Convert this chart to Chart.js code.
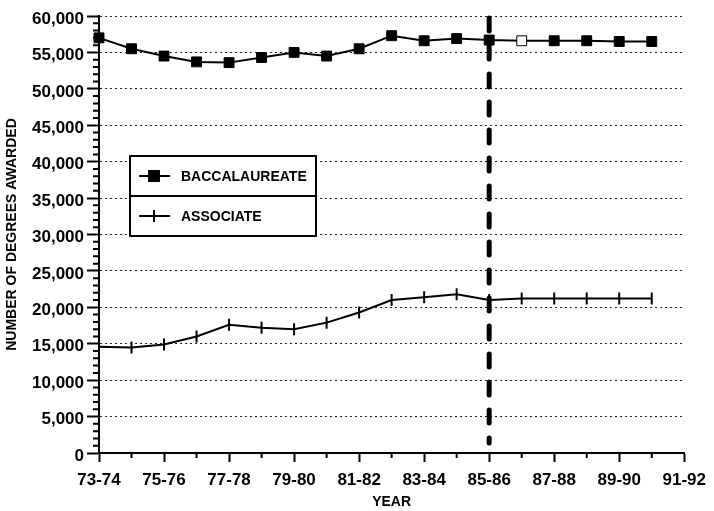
<!DOCTYPE html>
<html>
<head>
<meta charset="utf-8">
<script src="https://cdn.jsdelivr.net/npm/chart.js@4.4.0/dist/chart.umd.min.js"></script>
<style>
  html, body { margin: 0; padding: 0; background: #fff; }
</style>
</head>
<body>
<canvas id="myChart" width="714" height="511"></canvas>
<script>
let years = ['73-74','74-75','75-76','76-77','77-78','78-79','79-80','80-81','81-82','82-83',
             '83-84','84-85','85-86','86-87','87-88','88-89','89-90','90-91','91-92'];
let baccalaureate = [57000, 55500, 54500, 53700, 53600, 54300, 55000, 54500, 55500, 57300,
                     56600, 56900, 56700, 56600, 56600, 56600, 56500, 56500];
let associate = [14600, 14500, 14900, 16000, 17600, 17200, 17000, 17900, 19300, 21000,
                 21400, 21800, 21000, 21200, 21200, 21200, 21200, 21200];
let projectionStart = '85-86';
let openPoint = '86-87';

const face = "'Liberation Sans', Arial, sans-serif";

// dashed line where the projection starts
const projectionLine = {
    id: 'projectionLine',
    beforeDatasetsDraw(chart) {
        const ctx = chart.ctx;
        const x = chart.scales.x.getPixelForValue(years.indexOf(projectionStart));
        ctx.save();
        ctx.strokeStyle = '#000';
        ctx.lineWidth = 5;
        ctx.lineCap = 'round';
        ctx.setLineDash([13, 15]);
        ctx.beginPath();
        ctx.moveTo(x, chart.chartArea.top + 2);
        ctx.lineTo(x, chart.chartArea.bottom - 10);
        ctx.stroke();
        ctx.restore();
    }
};

// short minor ticks on both axes
const minorTicks = {
    id: 'minorTicks',
    afterDraw(chart) {
        const ctx = chart.ctx;
        const xs = chart.scales.x, ys = chart.scales.y;
        ctx.save();
        ctx.strokeStyle = '#000';
        ctx.lineWidth = 2;
        ctx.beginPath();
        for (let v = 1000; v < 60000; v += 1000) {
            if (v % 5000 === 0) continue;
            const y = ys.getPixelForValue(v);
            ctx.moveTo(ys.right - 6, y);
            ctx.lineTo(ys.right, y);
        }
        for (let i = 1; i < years.length; i += 2) {
            const x = xs.getPixelForValue(i);
            ctx.moveTo(x, xs.top);
            ctx.lineTo(x, xs.top + 5);
        }
        ctx.stroke();
        ctx.restore();
    }
};

// boxed legend
const boxLegend = {
    id: 'boxLegend',
    afterDatasetsDraw(chart) {
        const ctx = chart.ctx;
        const bx = 130, by = 156, bw = 186, bh = 80;
        ctx.save();
        ctx.fillStyle = '#fff';
        ctx.fillRect(bx, by, bw, bh);
        ctx.strokeStyle = '#000';
        ctx.lineWidth = 2;
        ctx.strokeRect(bx, by, bw, bh);
        ctx.beginPath();
        ctx.moveTo(bx, by + bh / 2);
        ctx.lineTo(bx + bw, by + bh / 2);
        ctx.stroke();
        chart.data.datasets.forEach((ds, i) => {
            const cy = by + bh / 4 + i * bh / 2;
            ctx.strokeStyle = '#000';
            ctx.fillStyle = '#000';
            ctx.lineWidth = 2;
            ctx.beginPath();
            ctx.moveTo(bx + 9, cy);
            ctx.lineTo(bx + 40, cy);
            ctx.stroke();
            Chart.helpers.drawPoint(ctx, {
                pointStyle: ds.pointStyle, rotation: ds.pointRotation || 0,
                radius: ds.pointRadius, borderWidth: 2
            }, bx + 24, cy);
            ctx.font = 'bold 14px ' + face;
            ctx.textBaseline = 'middle';
            ctx.textAlign = 'left';
            ctx.fillText(ds.label, bx + 51, cy + 1);
        });
        ctx.restore();
    }
};

new Chart('myChart', {
    type: 'line',
    data: {
        labels: years,
        datasets: [{
            label: 'BACCALAUREATE',
            data: baccalaureate,
            borderColor: '#000',
            borderWidth: 2,
            pointStyle: 'rect',
            pointRadius: 7,
            pointBorderWidth: 1,
            pointBorderColor: '#000',
            pointBackgroundColor: (c) => years[c.dataIndex] === openPoint ? '#fff' : '#000',
            tension: 0
        }, {
            label: 'ASSOCIATE',
            data: associate,
            borderColor: '#000',
            borderWidth: 2,
            pointStyle: 'line',
            pointRotation: 90,
            pointRadius: 6,
            pointBorderWidth: 2,
            pointBorderColor: '#000',
            tension: 0
        }]
    },
    options: {
        responsive: false,
        animation: false,
        events: [],
        layout: { padding: { top: 16, right: 24, left: 0, bottom: 0 } },
        plugins: {
            legend: { display: false },
            tooltip: { enabled: false }
        },
        scales: {
            x: {
                offset: false,
                afterFit: (s) => { s.height = 58; },
                grid: {
                    drawOnChartArea: false,
                    tickLength: 9,
                    tickWidth: 2,
                    tickColor: (c) => c.index % 2 === 0 ? '#000' : 'transparent'
                },
                border: { color: '#000', width: 2 },
                ticks: {
                    autoSkip: false,
                    maxRotation: 0,
                    minRotation: 0,
                    padding: 8,
                    color: '#000',
                    font: { family: face, size: 17, weight: 'bold' },
                    callback: (v, i) => i % 2 === 0 ? years[i] : ''
                },
                title: {
                    display: true,
                    text: 'YEAR',
                    color: '#000',
                    font: { family: face, size: 14, weight: 'bold' },
                    padding: { top: 0, bottom: 0 }
                }
            },
            y: {
                min: 0,
                max: 60000,
                afterFit: (s) => { s.width = 99; },
                grid: {
                    color: (c) => c.tick.value === 0 ? 'transparent' : '#222',
                    lineWidth: 1,
                    tickLength: 12,
                    tickWidth: 2,
                    tickColor: '#000'
                },
                border: { color: '#000', width: 2, dash: [2, 3] },
                ticks: {
                    stepSize: 5000,
                    padding: 3,
                    labelOffset: 3,
                    color: '#000',
                    font: { family: face, size: 17, weight: 'bold' },
                    callback: (v) => v.toLocaleString('en-US')
                },
                title: {
                    display: true,
                    text: 'NUMBER OF DEGREES AWARDED',
                    color: '#000',
                    font: { family: face, size: 14, weight: 'bold' },
                    padding: { top: 4, bottom: 0 }
                }
            }
        }
    },
    plugins: [projectionLine, minorTicks, boxLegend]
});
</script>
</body>
</html>
